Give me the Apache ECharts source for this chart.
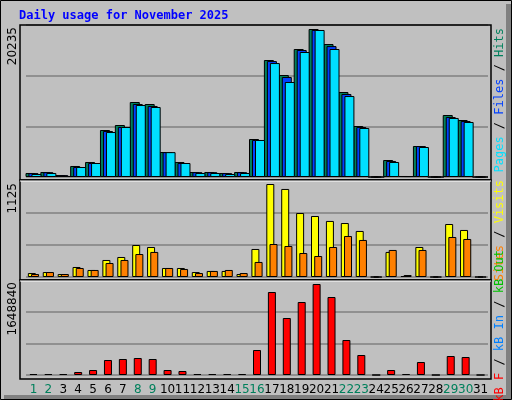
<!DOCTYPE html>
<html><head><meta charset="utf-8">
<script src="https://cdn.jsdelivr.net/npm/echarts@6/dist/echarts.min.js"></script>
<style>html,body{margin:0;padding:0;background:#fff}#c{width:512px;height:400px}</style>
</head><body><div id="c"></div>
<script>
const days = Array.from({length:31},(_,i)=>String(i+1));
const weekend = [1,2,8,9,15,16,22,23,29,30];
const hits  = [547,684,273,1504,2051,6425,7108,10253,9979,3418,2051,684,684,547,684,5195,15994,13943,17498,20235,18181,11620,6972,0,2324,137,4238,0,8475,7792,0];
const files = [530,660,260,1370,1910,6290,6840,9980,9710,3400,1910,660,660,530,660,5060,15850,13670,17360,20100,17900,11350,6840,0,2190,130,4230,0,8200,7650,0];
const pages = [410,547,137,1367,1914,6150,6835,9840,9570,3400,1914,547,547,410,547,5060,15580,12990,17090,20100,17500,11070,6700,0,2050,130,4100,0,8070,7520,0];
const visits = [48,60,36,121,85,206,242,387,363,109,109,60,73,73,36,339,1125,1065,774,738,678,653,557,0,303,12,363,0,641,569,0];
const sites  = [36,60,36,109,85,169,206,278,303,109,97,48,73,85,48,182,399,375,290,254,363,496,448,0,327,24,327,0,484,460,0];
const kbytes = [18119,18119,18119,54357,90595,271785,289904,308023,289904,90595,72476,18119,18119,18119,18119,452975,1503877,1032783,1322687,1648840,1413282,634165,362380,0,90595,18119,235547,0,344261,326142,0];
const labelHits = "20235", labelVisits = "1125", labelKB = "1648840";
const top1 = 20235*152/148, top2 = 1125*97/93, top3 = 1648840*95/91;

const chart = echarts.init(document.getElementById('c'));
const mono = 'DejaVu Sans Mono';
const grids = [
  {left:26,right:24,top:25,height:152},
  {left:26,right:24,top:180,height:97},
  {left:26,right:24,top:280,height:95}
];
const xA = (i,show)=>({type:'category',gridIndex:i,data:days,axisLine:{show:false},axisTick:{show:false},
  axisLabel:{show:show,interval:0,margin:9,fontFamily:'DejaVu Sans',fontSize:12,
    color:(v)=>weekend.includes(+v)?'#00805c':'#000'}});
const yA = (i,mx)=>({type:'value',gridIndex:i,min:0,max:mx,interval:mx/3,axisLabel:{show:false},
  axisLine:{show:false},axisTick:{show:false},splitLine:{show:true,lineStyle:{color:'#808080',width:1.5}}});
const bs = (name,data,color,xi,w,gap)=>({type:'bar',name,data,xAxisIndex:xi,yAxisIndex:xi,barWidth:w,barGap:gap,
  itemStyle:{color,borderColor:'#000',borderWidth:1},animation:false,silent:true});
const rtext = (x,y,rich,text)=>({type:'text',x,y,rotation:Math.PI/2,
  style:{text,rich,align:'right',verticalAlign:'middle',fontFamily:mono,fontSize:12}});
chart.setOption({
  backgroundColor:'#c0c0c0',
  animation:false,
  grid:grids,
  xAxis:[xA(0,false),xA(1,false),xA(2,true)],
  yAxis:[yA(0,top1),yA(1,top2),yA(2,top3)],
  graphic:[
    {type:'rect',shape:{x:0.5,y:0.5,width:511,height:399},style:{fill:'none',stroke:'#000',lineWidth:1},z:-1},
    {type:'rect',shape:{x:506,y:4,width:5,height:395},style:{fill:'#808080'},z:-1},
    {type:'rect',shape:{x:4,y:395,width:507,height:4},style:{fill:'#808080'},z:-1},
    {type:'rect',shape:{x:20,y:25,width:471,height:155},style:{fill:'none',stroke:'#000',lineWidth:1.5},z:10},
    {type:'rect',shape:{x:20,y:180,width:471,height:100},style:{fill:'none',stroke:'#000',lineWidth:1.5},z:10},
    {type:'rect',shape:{x:20,y:280,width:471,height:99},style:{fill:'none',stroke:'#000',lineWidth:1.5},z:10},
    {type:'line',shape:{x1:20,y1:181,x2:491,y2:181},style:{stroke:'#fff',lineWidth:1},z:11},
    {type:'line',shape:{x1:20,y1:281,x2:491,y2:281},style:{stroke:'#fff',lineWidth:1},z:11},
    {type:'text',x:19,y:16,style:{text:'Daily usage for November 2025',fill:'#0000ff',fontFamily:mono,fontWeight:'bold',fontSize:12,verticalAlign:'middle'}},
    {type:'text',x:13,y:27,rotation:Math.PI/2,style:{text:labelHits,fill:'#000',fontFamily:'DejaVu Sans',fontSize:12,align:'right',verticalAlign:'middle'}},
    {type:'text',x:13,y:183,rotation:Math.PI/2,style:{text:labelVisits,fill:'#000',fontFamily:'DejaVu Sans',fontSize:12,align:'right',verticalAlign:'middle'}},
    {type:'text',x:13,y:282,rotation:Math.PI/2,style:{text:labelKB,fill:'#000',fontFamily:'DejaVu Sans',fontSize:12,align:'right',verticalAlign:'middle'}},
    rtext(500,28,{p:{fill:'#00e0ff'},f:{fill:'#0040ff'},h:{fill:'#00805c'},s:{fill:'#000'}},'{p|Pages}{s| / }{f|Files}{s| / }{h|Hits}'),
    rtext(500,180,{v:{fill:'#ffff00'},t:{fill:'#ff8000'},s:{fill:'#000'}},'{t|Sites}{s| / }{v|Visits}'),
    rtext(500,250,{r:{fill:'#ff0000'},i:{fill:'#0080ff'},o:{fill:'#00c000'},s:{fill:'#000'}},'{r|kB F}{s| / }{i|kB In}{s| / }{o|kB Out}')
  ],
  series:[
    bs('Hits',hits,'#00805c',0,10,'-70%'),
    bs('Files',files,'#0040ff',0,10,'-70%'),
    bs('Pages',pages,'#00e0ff',0,10,'-70%'),
    bs('Visits',visits,'#ffff00',1,8,'-60%'),
    bs('Sites',sites,'#ff8000',1,8,'-60%'),
    bs('kB',kbytes,'#ff0000',2,8,'0%')
  ]
});
</script></body></html>
